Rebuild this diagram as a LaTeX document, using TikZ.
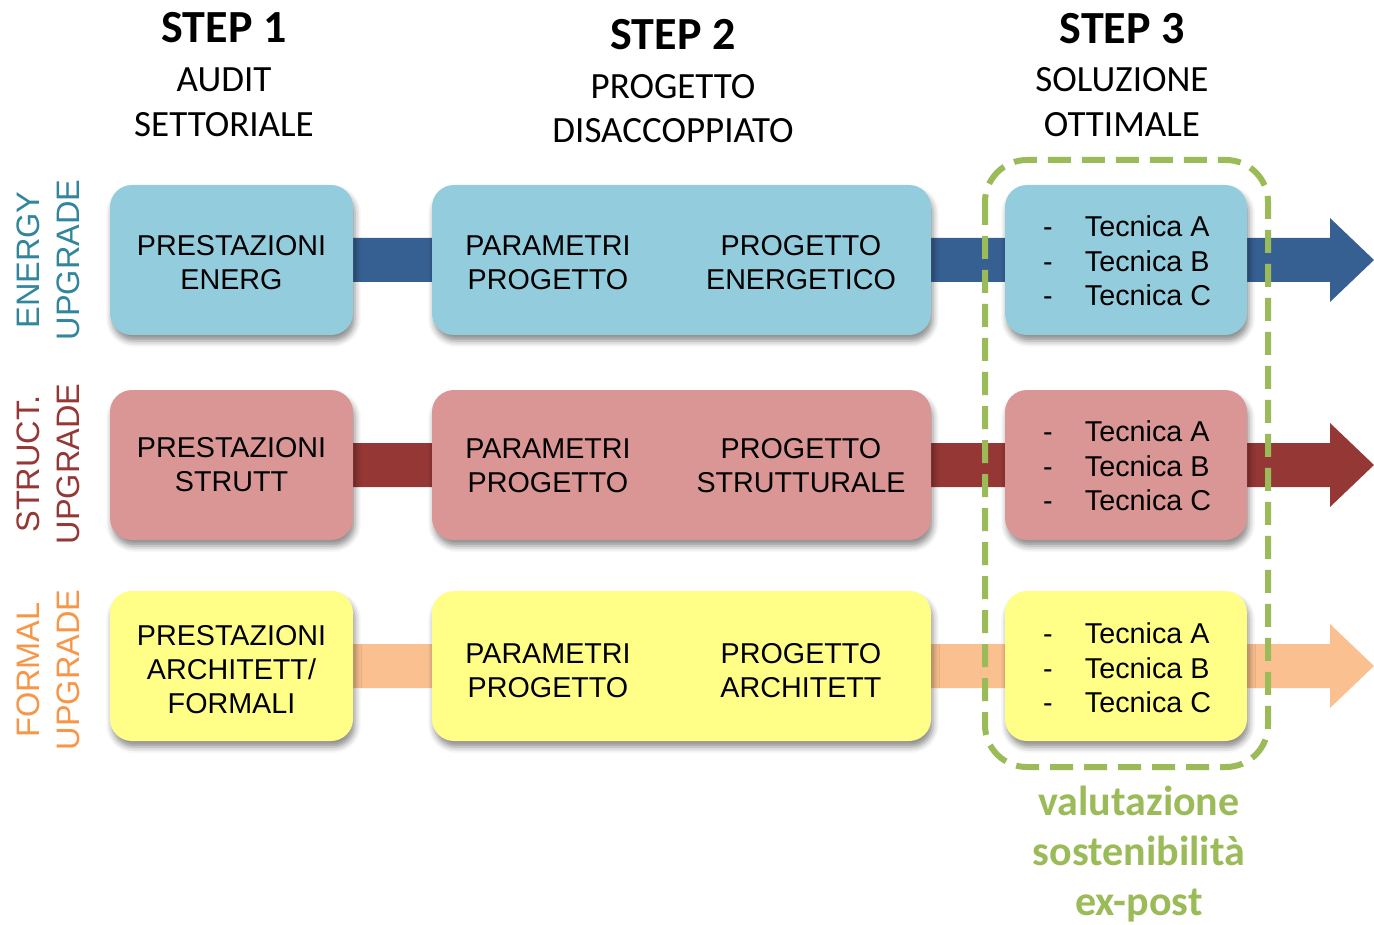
\documentclass[tikz,border=0pt]{standalone}
\usepackage{fontspec}
\setmainfont{Liberation Sans}
\newfontfamily\carlito{Carlito}
\usetikzlibrary{shadows.blur}

\definecolor{enBand}{HTML}{376092}
\definecolor{enBox}{HTML}{93CDDD}
\definecolor{enText}{HTML}{31859C}
\definecolor{stBand}{HTML}{953735}
\definecolor{stBox}{HTML}{D99694}
\definecolor{stText}{HTML}{953735}
\definecolor{fmBand}{HTML}{FAC090}
\definecolor{fmBox}{HTML}{FFFF88}
\definecolor{fmText}{HTML}{F79646}
\definecolor{evalGreen}{HTML}{9BBB59}

% wide flow arrow: colour, start node, tip coordinate
\newcommand\flowarrow[3]{%
  \fill[#1] ([yshift=22pt]#2) -- ([xshift=-44pt,yshift=22pt]#3)
    -- ([xshift=-44pt,yshift=42pt]#3) -- (#3)
    -- ([xshift=-44pt,yshift=-42pt]#3) -- ([xshift=-44pt,yshift=-22pt]#3)
    -- ([yshift=-22pt]#2) -- cycle;}

\tikzset{
  stagebox/.style={rounded corners=22pt, minimum height=150pt, inner sep=0pt,
    blur shadow={shadow xshift=2pt, shadow yshift=-6pt, shadow blur radius=6pt, shadow opacity=45}},
  boxtext/.style={align=center, font=\fontsize{28.7}{34}\selectfont, inner sep=0pt},
  listtext/.style={align=left, font=\fontsize{28.7}{34.5}\selectfont, inner sep=0pt},
  rowlabel/.style={align=center, rotate=90, font=\fontsize{32.5}{40}\selectfont, inner sep=0pt},
  stephead/.style={anchor=base, font=\carlito\bfseries\fontsize{46}{50}\selectfont, inner sep=0pt},
  stepsub/.style={anchor=base, font=\carlito\fontsize{37}{40}\selectfont, inner sep=0pt},
  evaltext/.style={anchor=base, text=evalGreen, font=\carlito\bfseries\fontsize{42}{50}\selectfont, inner sep=0pt},
}

\begin{document}
\begin{tikzpicture}[x=1pt, y=-1pt]
\useasboundingbox (0,0) rectangle (1374,925);

% column headings
\node[stephead] (h1) at (224,43) {STEP 1};
\node[stepsub] (h1a) at (224,92) {AUDIT};
\node[stepsub] (h1b) at (224,137) {SETTORIALE};
\node[stephead] (h2) at (673,50) {STEP 2};
\node[stepsub] (h2a) at (673,99) {PROGETTO};
\node[stepsub] (h2b) at (673,143) {DISACCOPPIATO};
\node[stephead] (h3) at (1122,44) {STEP 3};
\node[stepsub] (h3a) at (1122,92) {SOLUZIONE};
\node[stepsub] (h3b) at (1122,137) {OTTIMALE};

% row labels
\node[rowlabel, text=enText] (l1) at (48,260) {ENERGY\\UPGRADE};
\node[rowlabel, text=stText] (l2) at (48,464) {STRUCT.\\UPGRADE};
\node[rowlabel, text=fmText] (l3) at (48,670) {FORMAL\\UPGRADE};

% tips of the flow arrows
\coordinate (t1) at (1374,260);
\coordinate (t2) at (1374,465);
\coordinate (t3) at (1374,666);

% anchors for the first boxes (the arrows start behind them)
\coordinate (a1) at (231.5,260);
\coordinate (a2) at (231.5,465);
\coordinate (a3) at (231.5,666);

\flowarrow{enBand}{a1}{t1}
\flowarrow{stBand}{a2}{t2}
\flowarrow{fmBand}{a3}{t3}

% energy row
\node[stagebox, fill=enBox, minimum width=243pt] (e1) at (a1) {};
\node[stagebox, fill=enBox, minimum width=499pt] (e2) at (681.5,260) {};
\node[stagebox, fill=enBox, minimum width=242pt] (e3) at (1126,260) {};
\node[boxtext] at (231.5,263) {PRESTAZIONI\\ENERG};
\node[boxtext] at (548,263) {PARAMETRI\\PROGETTO};
\node[boxtext] at (801,263) {PROGETTO\\ENERGETICO};
\node[listtext] at (1127,261) {\makebox[42pt][l]{-}Tecnica A\\\makebox[42pt][l]{-}Tecnica B\\\makebox[42pt][l]{-}Tecnica C};

% structural row
\node[stagebox, fill=stBox, minimum width=243pt] (s1) at (a2) {};
\node[stagebox, fill=stBox, minimum width=499pt] (s2) at (681.5,465) {};
\node[stagebox, fill=stBox, minimum width=242pt] (s3) at (1126,465) {};
\node[boxtext] at (231.5,465) {PRESTAZIONI\\STRUTT};
\node[boxtext] at (548,466) {PARAMETRI\\PROGETTO};
\node[boxtext] at (801,466) {PROGETTO\\STRUTTURALE};
\node[listtext] at (1127,466) {\makebox[42pt][l]{-}Tecnica A\\\makebox[42pt][l]{-}Tecnica B\\\makebox[42pt][l]{-}Tecnica C};

% formal row
\node[stagebox, fill=fmBox, minimum width=243pt] (f1) at (a3) {};
\node[stagebox, fill=fmBox, minimum width=499pt] (f2) at (681.5,666) {};
\node[stagebox, fill=fmBox, minimum width=242pt] (f3) at (1126,666) {};
\node[boxtext] at (231.5,670) {PRESTAZIONI\\ARCHITETT/\\FORMALI};
\node[boxtext] at (548,671) {PARAMETRI\\PROGETTO};
\node[boxtext] at (801,671) {PROGETTO\\ARCHITETT};
\node[listtext] at (1127,668) {\makebox[42pt][l]{-}Tecnica A\\\makebox[42pt][l]{-}Tecnica B\\\makebox[42pt][l]{-}Tecnica C};

% evaluation frame around the optimal solutions
\draw[evalGreen, line width=6pt, rounded corners=42pt, dash pattern=on 23pt off 11pt]
  (985,160) rectangle (1268,767);
\node[evaltext] (v1) at (1139,815) {valutazione};
\node[evaltext] (v2) at (1139,865) {sostenibilità};
\node[evaltext] (v3) at (1139,915) {ex-post};
\end{tikzpicture}
\end{document}
